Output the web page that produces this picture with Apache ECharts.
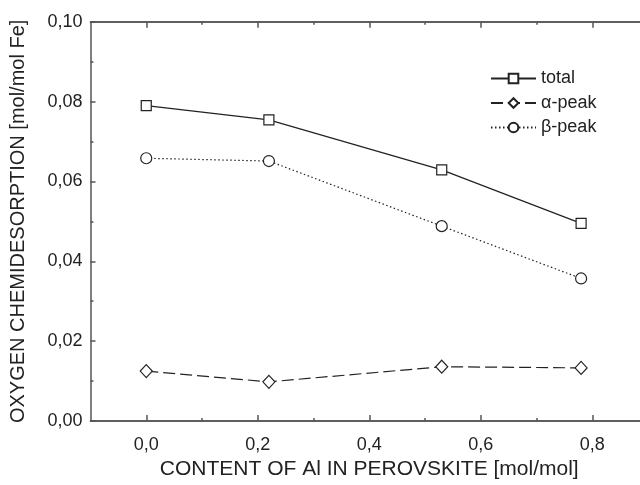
<!DOCTYPE html>
<html>
<head>
<meta charset="utf-8">
<script src="https://cdn.jsdelivr.net/npm/echarts@6/dist/echarts.min.js"></script>
<style>
  html, body { margin: 0; padding: 0; background: #fff; }
  #chart { width: 640px; height: 485px; }
</style>
</head>
<body>
<div id="chart"></div>
<script>
// Al content in perovskite [mol/mol]
var alContent = [0.0, 0.22, 0.53, 0.78];
// oxygen chemidesorption [mol/mol Fe]
var totalPeak = [0.0790, 0.0754, 0.0629, 0.0495];
var alphaPeak = [0.0125, 0.0098, 0.0136, 0.0133];
var betaPeak = [0.0658, 0.0651, 0.0488, 0.0357];

var xMajorTicks = [0, 0.2, 0.4, 0.6, 0.8];
var xMinorTicks = [0.1, 0.3, 0.5, 0.7, 0.9];

function pairs(xs, ys) {
    return xs.map(function (x, i) { return [x, ys[i]]; });
}

var ink = '#222';
var axisGrey = '#555';
var font = 'Liberation Sans, Arial, sans-serif';

function xAxisBase(pos, ticks, len, withLabels) {
    return {
        type: 'value',
        position: pos,
        min: -0.1,
        max: 0.9,
        interval: 0.1,
        name: withLabels ? 'CONTENT OF Al IN PEROVSKITE [mol/mol]' : '',
        nameLocation: 'middle',
        nameGap: 34,
        nameTextStyle: { fontFamily: font, fontSize: 21, color: ink },
        axisLine: { show: true, onZero: false, lineStyle: { color: axisGrey, width: 1.5 } },
        axisTick: { show: true, inside: true, length: len, customValues: ticks,
                    lineStyle: { color: axisGrey, width: 1.5 } },
        axisLabel: withLabels ? {
            show: true, margin: 15, customValues: xMajorTicks,
            fontFamily: font, fontSize: 18, color: ink,
            formatter: function (v) { return v.toFixed(1).replace('.', ','); }
        } : { show: false },
        splitLine: { show: false }
    };
}

var chart = echarts.init(document.getElementById('chart'));
var option = {
    animation: false,
    backgroundColor: '#fff',
    grid: { left: 90.5, width: 557.5, top: 21.7, bottom: 64,
            containLabel: false, outerBoundsMode: 'none' },
    legend: {
        orient: 'vertical',
        left: 485,
        top: 64.5,
        itemWidth: 45,
        itemHeight: 12,
        itemGap: 6.5,
        textStyle: { fontFamily: font, fontSize: 18, color: ink },
        data: ['total', '\u03b1-peak', '\u03b2-peak']
    },
    xAxis: [
        xAxisBase('bottom', xMajorTicks, 6, true),
        xAxisBase('bottom', xMinorTicks, 3, false),
        xAxisBase('top', xMajorTicks, 6, false),
        xAxisBase('top', xMinorTicks, 3, false)
    ],
    yAxis: {
        type: 'value',
        min: 0,
        max: 0.1,
        interval: 0.02,
        name: 'OXYGEN CHEMIDESORPTION [mol/mol Fe]',
        nameLocation: 'middle',
        nameGap: 62,
        nameTextStyle: { fontFamily: font, fontSize: 20, color: ink },
        axisLine: { show: true, onZero: false, lineStyle: { color: axisGrey, width: 1.5 } },
        axisTick: { show: true, inside: true, length: 5, lineStyle: { color: axisGrey, width: 1.5 } },
        minorTick: { show: true, splitNumber: 2, length: 3, lineStyle: { color: axisGrey, width: 1.5 } },
        axisLabel: {
            margin: 8, fontFamily: font, fontSize: 18, color: ink,
            formatter: function (v) { return v.toFixed(2).replace('.', ','); }
        },
        splitLine: { show: false }
    },
    series: [
        {
            name: 'total',
            type: 'line',
            data: pairs(alContent, totalPeak),
            symbol: 'rect',
            symbolSize: 10,
            lineStyle: { color: ink, width: 1.2, type: 'solid' },
            itemStyle: { color: '#fff', borderColor: ink, borderWidth: 1.2 }
        },
        {
            name: '\u03b1-peak',
            type: 'line',
            data: pairs(alContent, alphaPeak),
            symbol: 'diamond',
            symbolSize: [12, 13],
            lineStyle: { color: ink, width: 1.2, type: [12, 5] },
            itemStyle: { color: '#fff', borderColor: ink, borderWidth: 1.2 }
        },
        {
            name: '\u03b2-peak',
            type: 'line',
            data: pairs(alContent, betaPeak),
            symbol: 'circle',
            symbolSize: 11,
            lineStyle: { color: ink, width: 1.2, type: [1.5, 2.5] },
            itemStyle: { color: '#fff', borderColor: ink, borderWidth: 1.2 }
        }
    ]
};
chart.setOption(option);
</script>
</body>
</html>
